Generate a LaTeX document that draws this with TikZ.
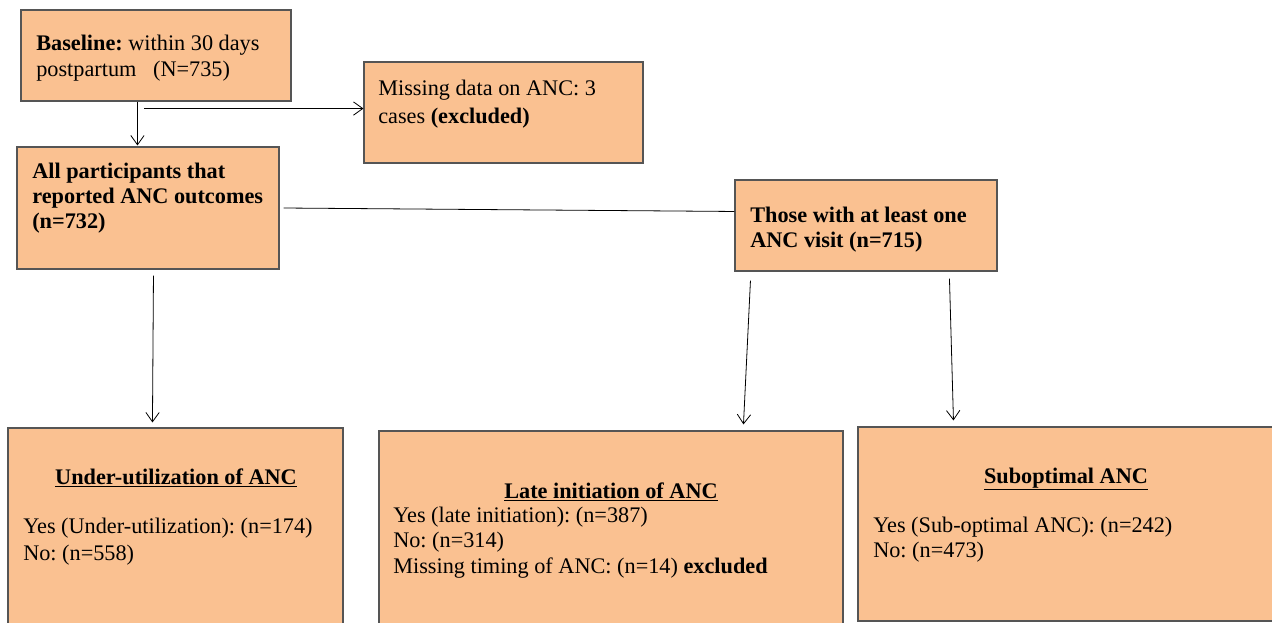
\documentclass[tikz,border=0pt]{standalone}
\usepackage{fontspec}
\setmainfont{Liberation Serif}
\usetikzlibrary{fit,calc,arrows.meta}
\definecolor{peach}{HTML}{FAC191}
\definecolor{edge}{HTML}{555555}
\tikzset{
  box/.style={draw=edge, line width=0.8pt, fill=peach, inner sep=0pt},
  txt/.style={inner sep=0pt, anchor=base west, font=\fontsize{16.7pt}{19pt}\selectfont},
  btxt/.style={txt, font=\fontsize{16.7pt}{19pt}\selectfont\bfseries},
  ttl/.style={inner sep=0pt, anchor=base, font=\fontsize{16.7pt}{19pt}\selectfont\bfseries},
  arr/.style={draw=black, line width=0.6pt, -{Straight Barb[length=7pt,width=10pt]}},
  ln/.style={draw=black, line width=0.6pt}
}
\frenchspacing
\begin{document}
\begin{tikzpicture}[x=0.75pt,y=-0.75pt]
\useasboundingbox (0,0) rectangle (1272,622);
\clip (0,0) rectangle (1272,622);
% boxes
\node[box, fit={(21,10)(291,101)}] (base) {};
\node[box, fit={(364,62)(643,163)}] (miss) {};
\node[box, fit={(17,147)(279,269)}] (all) {};
\node[box, fit={(735,180)(997,271)}] (those) {};
\node[box, fit={(8,428)(343,640)}] (under) {};
\node[box, fit={(379,431)(843,640)}] (late) {};
\node[box, fit={(858,427)(1290,621)}] (sub) {};
% texts
\node[txt] (b1) at (36,50) {\textbf{Baseline:} within 30 days};
\node[txt] (b2) at (36,76) {postpartum\ \ \ (N=735)};
\node[txt] (m1) at (378,95) {Missing data on ANC: 3};
\node[txt] (m2) at (378,123) {cases \textbf{(excluded)}};
\node[btxt] (a1) at (32,178) {All participants that};
\node[btxt] (a2) at (32,203) {reported ANC outcomes};
\node[btxt] (a3) at (32,228) {(n=732)};
\node[btxt] (t1) at (750,222) {Those with at least one};
\node[btxt] (t2) at (750,247) {ANC visit (n=715)};
\node[ttl] (u0) at (176,484) {\underline{Under-utilization of ANC}};
\node[txt] (u1) at (23,533) {Yes (Under-utilization): (n=174)};
\node[txt] (u2) at (23,560) {No: (n=558)};
\node[ttl] (l0) at (611,498) {\underline{Late initiation of ANC}};
\node[txt] (l1) at (393,522) {Yes (late initiation): (n=387)};
\node[txt] (l2) at (393,547) {No: (n=314)};
\node[txt] (l3) at (393,573) {Missing timing of ANC: (n=14) \textbf{excluded}};
\node[ttl] (s0) at (1066,483) {\underline{Suboptimal ANC}};
\node[txt] (s1) at (873,532) {Yes (Sub-optimal ANC): (n=242)};
\node[txt] (s2) at (873,557) {No: (n=473)};
% connectors
\draw[arr] ($(base.south west)+(117,0)$) -- ($(all.north west)+(121,-1)$);
\coordinate (hstart) at ($(base.south west)+(124,7)$);
\draw[arr] (hstart) -- (miss.west |- hstart);
\draw[ln] ($(all.east)+(4,0)$) -- ($(those.north west)+(0,32)$);
\draw[arr] ($(all.south west)+(137,6)$) -- ($(under.north west)+(145,-5)$);
\draw[arr] ($(those.south west)+(16,9)$) -- ($(late.north west)+(365,-6)$);
\draw[arr] ($(those.south west)+(215,7)$) -- ($(sub.north west)+(96,-6)$);
\end{tikzpicture}
\end{document}
